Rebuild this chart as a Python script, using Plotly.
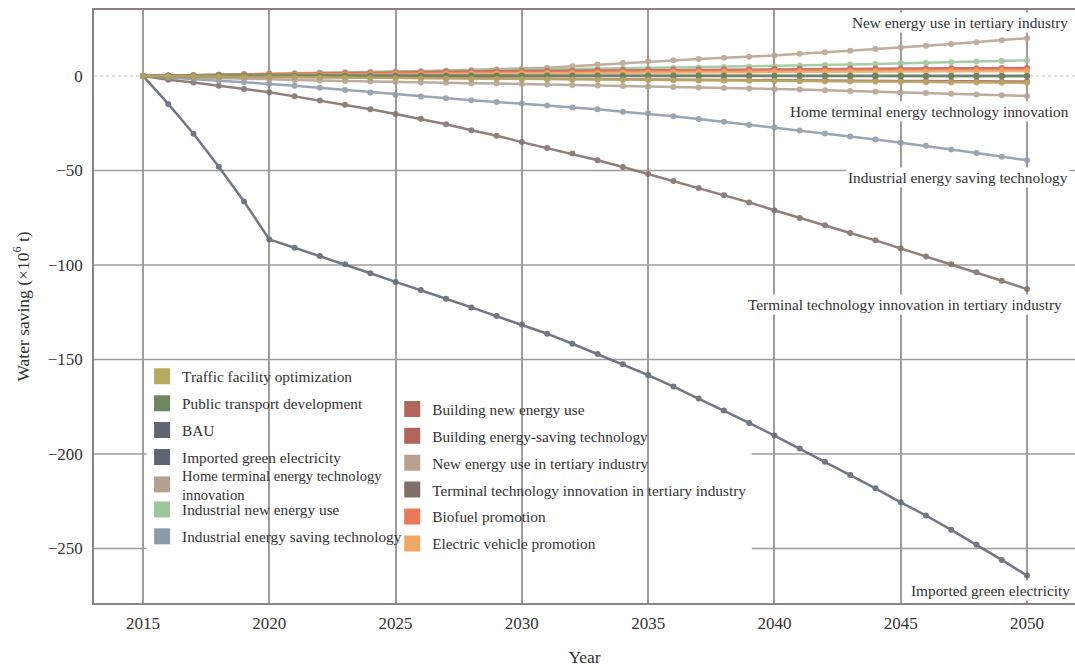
import plotly.graph_objects as go

years = list(range(2015, 2051))

# Water saving by scenario (10^6 t), 2015-2050
traffic_facility = [0, -0.1, -0.2, -0.4, -0.5, -0.6, -0.7, -0.8, -0.9, -1.1, -1.2, -1.3, -1.4, -1.5, -1.6, -1.7, -1.8, -1.9,
                    -2.0, -2.1, -2.2, -2.3, -2.4, -2.5, -2.6, -2.7, -2.8, -2.9, -3.0, -3.1, -3.2, -3.3, -3.4, -3.5, -3.6, -3.7]
public_transport = [0, 0.1, 0.1, 0.2, 0.2, 0.2, 0.3, 0.3, 0.3, 0.3, 0.3, 0.3, 0.3, 0.3, 0.3, 0.3, 0.3, 0.3,
                    0.2, 0.2, 0.2, 0.2, 0.2, 0.2, 0.1, 0.1, 0.1, 0.1, 0.1, 0.1, 0.1, 0.0, 0.0, 0.0, 0.0, 0.0]
bau = [0, 0, 0, 0, 0, 0, 0, 0, 0, 0, 0, 0, 0, 0, 0, 0, 0, 0,
       0, 0, 0, 0, 0, 0, 0, 0, 0, 0, 0, 0, 0, 0, 0, 0, 0, 0]
imported_green = [0, -14.8, -30.6, -48.0, -66.4, -86.5, -90.9, -95.3, -99.7, -104.4, -109.0, -113.3, -117.9, -122.5,
                  -127.0, -131.5, -136.4, -141.7, -147.2, -152.6, -158.3, -164.4, -170.7, -177.1, -183.6, -190.3,
                  -197.2, -204.1, -211.1, -218.2, -225.6, -232.6, -240.2, -248.1, -256.1, -264.4]
home_terminal = [0, -0.4, -0.7, -1.1, -1.4, -1.8, -2.1, -2.4, -2.7, -3.0, -3.2, -3.4, -3.6, -3.8, -4.0, -4.2, -4.5, -4.8,
                 -5.0, -5.3, -5.6, -5.9, -6.1, -6.4, -6.6, -6.9, -7.2, -7.6, -7.9, -8.3, -8.7, -9.0, -9.4, -9.8, -10.2, -10.6]
industrial_new = [0, 0.2, 0.4, 0.6, 0.8, 1.0, 1.2, 1.4, 1.6, 1.8, 2.0, 2.2, 2.4, 2.6, 2.8, 3.0, 3.2, 3.4,
                  3.6, 3.9, 4.1, 4.3, 4.5, 4.7, 5.0, 5.2, 5.5, 5.8, 6.0, 6.3, 6.6, 6.9, 7.2, 7.6, 7.9, 8.3]
industrial_saving = [0, -0.8, -1.6, -2.4, -3.3, -4.2, -5.2, -6.3, -7.5, -8.7, -9.9, -10.9, -11.8, -12.9, -13.8, -14.6,
                     -15.7, -16.7, -17.6, -18.9, -19.9, -21.3, -22.8, -24.3, -25.9, -27.3, -28.8, -30.4, -32.0, -33.6,
                     -35.3, -37.0, -38.9, -40.8, -42.7, -44.6]
building_new = [0, 0.2, 0.4, 0.6, 0.8, 1.0, 1.2, 1.3, 1.5, 1.7, 1.8, 2.0, 2.2, 2.3, 2.5, 2.6, 2.7, 2.8,
                3.0, 3.1, 3.2, 3.3, 3.4, 3.5, 3.6, 3.7, 3.8, 3.8, 3.9, 3.9, 4.0, 4.0, 4.1, 4.1, 4.2, 4.2]
building_saving = [0, -0.1, -0.2, -0.3, -0.4, -0.5, -0.6, -0.7, -0.8, -0.9, -1.0, -1.1, -1.2, -1.3, -1.4, -1.5, -1.6, -1.7,
                   -1.8, -1.9, -2.0, -2.1, -2.1, -2.2, -2.3, -2.4, -2.4, -2.5, -2.6, -2.6, -2.7, -2.7, -2.8, -2.8, -2.9, -2.9]
tertiary_new = [0, 0.2, 0.5, 0.7, 1.0, 1.2, 1.4, 1.7, 1.9, 2.1, 2.3, 2.6, 2.9, 3.2, 3.5, 3.8, 4.4, 5.2,
                6.0, 6.9, 7.7, 8.3, 9.0, 9.6, 10.2, 10.8, 11.8, 12.5, 13.4, 14.3, 15.0, 16.0, 16.9, 17.8, 18.9, 20.0]
tertiary_terminal = [0, -2.0, -3.5, -5.2, -6.9, -8.6, -10.8, -13.0, -15.3, -17.6, -20.1, -22.7, -25.6, -28.7, -31.6,
                     -35.0, -38.1, -41.1, -44.6, -48.2, -51.9, -55.6, -59.3, -63.1, -66.9, -71.1, -75.2, -79.0, -83.1,
                     -87.0, -91.2, -95.5, -99.7, -103.9, -108.4, -112.8]
biofuel = [0, 0.2, 0.3, 0.5, 0.6, 0.8, 0.9, 1.1, 1.2, 1.4, 1.5, 1.6, 1.8, 1.9, 2.0, 2.1, 2.2, 2.3,
           2.4, 2.5, 2.6, 2.7, 2.8, 2.9, 3.0, 3.0, 3.1, 3.2, 3.2, 3.3, 3.3, 3.4, 3.4, 3.5, 3.5, 3.6]
electric_vehicle = [0, 0.1, 0.2, 0.3, 0.4, 0.5, 0.6, 0.7, 0.8, 0.9, 1.0, 1.1, 1.2, 1.3, 1.3, 1.4, 1.5, 1.6,
                    1.6, 1.7, 1.8, 1.9, 1.9, 2.0, 2.0, 2.1, 2.2, 2.2, 2.3, 2.3, 2.4, 2.4, 2.5, 2.5, 2.6, 2.6]

y_ticks = [-250, -200, -150, -100, -50, 0]
y_tick_text = ["\u2212250", "\u2212200", "\u2212150", "\u2212100", "\u221250", "0"]
x_ticks = [2015, 2020, 2025, 2030, 2035, 2040, 2045, 2050]

# name, values, colour, legend block
series = {
    "Traffic facility optimization": (traffic_facility, "#b8aa62", "legend"),
    "Public transport development": (public_transport, "#6c8660", "legend"),
    "BAU": (bau, "#5f6574", "legend"),
    "Imported green electricity": (imported_green, "#5f6574", "legend"),
    "Home terminal energy technology<br>innovation": (home_terminal, "#b5a091", "legend4"),
    "Industrial new energy use": (industrial_new, "#9cc79a", "legend3"),
    "Industrial energy saving technology": (industrial_saving, "#8e9aab", "legend3"),
    "Building new energy use": (building_new, "#b3655d", "legend2"),
    "Building energy-saving technology": (building_saving, "#b1645b", "legend2"),
    "New energy use in tertiary industry": (tertiary_new, "#b9a291", "legend2"),
    "Terminal technology innovation in tertiary industry": (tertiary_terminal, "#816f69", "legend2"),
    "Biofuel promotion": (biofuel, "#ea785a", "legend2"),
    "Electric vehicle promotion": (electric_vehicle, "#f0a865", "legend2"),
}

draw_order = [
    "Imported green electricity",
    "Terminal technology innovation in tertiary industry",
    "Industrial energy saving technology",
    "Home terminal energy technology<br>innovation",
    "New energy use in tertiary industry",
    "Industrial new energy use",
    "Building new energy use",
    "Building energy-saving technology",
    "Biofuel promotion",
    "Electric vehicle promotion",
    "BAU",
    "Public transport development",
    "Traffic facility optimization",
]

FONT = "Liberation Serif, Times New Roman, serif"
TXT = "#333333"
GRID = "#a09c9a"
fig = go.Figure()

for name in draw_order:
    vals, color, _ = series[name]
    fig.add_trace(go.Scatter(
        x=years, y=vals, mode="lines+markers", name=name, showlegend=False,
        line=dict(color=color, width=2.5), marker=dict(color=color, size=6),
        opacity=0.88,
    ))

# square swatches for the legend blocks
for i, (name, (vals, color, leg)) in enumerate(series.items()):
    fig.add_trace(go.Scatter(
        x=[None], y=[None], mode="markers", name=name, legend=leg,
        legendgroup=f"g{i}",
        marker=dict(symbol="square", size=16, color=color, line=dict(width=0)),
    ))

# horizontal grid lines and dotted zero line
for yv in [-250, -200, -150, -100, -50]:
    fig.add_shape(type="line", xref="paper", yref="y", x0=0, x1=1, y0=yv, y1=yv,
                  line=dict(color=GRID, width=1.5), layer="below")
fig.add_shape(type="line", xref="paper", yref="y", x0=0, x1=1, y0=0, y1=0,
              line=dict(color="#c4c0be", width=1, dash="dot"), layer="below")

# white panels behind the legend blocks (hide grid, keep lines on top)
for x0, x1, y0, y1 in [(2015.15, 2025.2, -153.0, -253.5), (2025.2, 2039.1, -166.5, -253.5)]:
    fig.add_shape(type="rect", xref="x", yref="y", x0=x0, x1=x1, y0=y0, y1=y1,
                  fillcolor="white", line=dict(width=0), layer="below")

# end-of-line labels
end_labels = [
    ("New energy use in tertiary industry", tertiary_new[-1], 16, 2051.7),
    ("Home terminal energy technology innovation", home_terminal[-1], -16, 2051.75),
    ("Industrial energy saving technology", industrial_saving[-1], -17, 2051.7),
    ("Terminal technology innovation in tertiary industry", tertiary_terminal[-1], -15, 2051.45),
    ("Imported green electricity", imported_green[-1], -15, 2051.8),
]
for text, yv, shift, xr in end_labels:
    fig.add_annotation(
        x=xr, y=yv, xref="x", yref="y", text=text, showarrow=False,
        xanchor="right", yanchor="middle", yshift=shift, bgcolor="white",
        font=dict(family=FONT, size=15.3, color=TXT), borderpad=1,
    )

legend_style = dict(
    bgcolor="rgba(0,0,0,0)", borderwidth=0, traceorder="grouped", tracegroupgap=4,
    font=dict(family=FONT, size=15.3, color=TXT),
    xanchor="left", yanchor="top", itemclick=False, itemdoubleclick=False,
)
compact_style = dict(legend_style, font=dict(family=FONT, size=14.6, color=TXT))

fig.update_layout(
    width=1075, height=667,
    margin=dict(l=94, r=0, t=10, b=64),
    paper_bgcolor="white", plot_bgcolor="white",
    font=dict(family=FONT, color=TXT),
    legend=dict(x=0.049, y=0.41, **legend_style),
    legend4=dict(x=0.049, y=0.243, **compact_style),
    legend3=dict(x=0.049, y=0.1855, **legend_style),
    legend2=dict(x=0.304, y=0.355, **legend_style),
    xaxis=dict(
        range=[2013.06, 2051.9], tickvals=x_ticks,
        showgrid=True, gridcolor=GRID, gridwidth=1.5, zeroline=False,
        showline=True, linecolor="#8c8380", linewidth=1.5, mirror=True,
        ticks="outside", ticklen=4, tickcolor="rgba(0,0,0,0)",
        tickfont=dict(family=FONT, size=17, color=TXT),
        title=dict(text="Year", font=dict(family=FONT, size=17.5, color=TXT), standoff=19),
    ),
    yaxis=dict(
        range=[-278.9, 34.9], tickvals=y_ticks, ticktext=y_tick_text,
        showgrid=False, zeroline=False,
        showline=True, linecolor="#8c8380", linewidth=1.5,
        ticks="outside", ticklen=6, tickcolor="rgba(0,0,0,0)",
        tickfont=dict(family=FONT, size=17, color=TXT),
        title=dict(text="Water saving (×10<sup>6</sup> t)", font=dict(family=FONT, size=17.5, color=TXT),
                   standoff=14),
    ),
)

fig.write_html("out.html")
